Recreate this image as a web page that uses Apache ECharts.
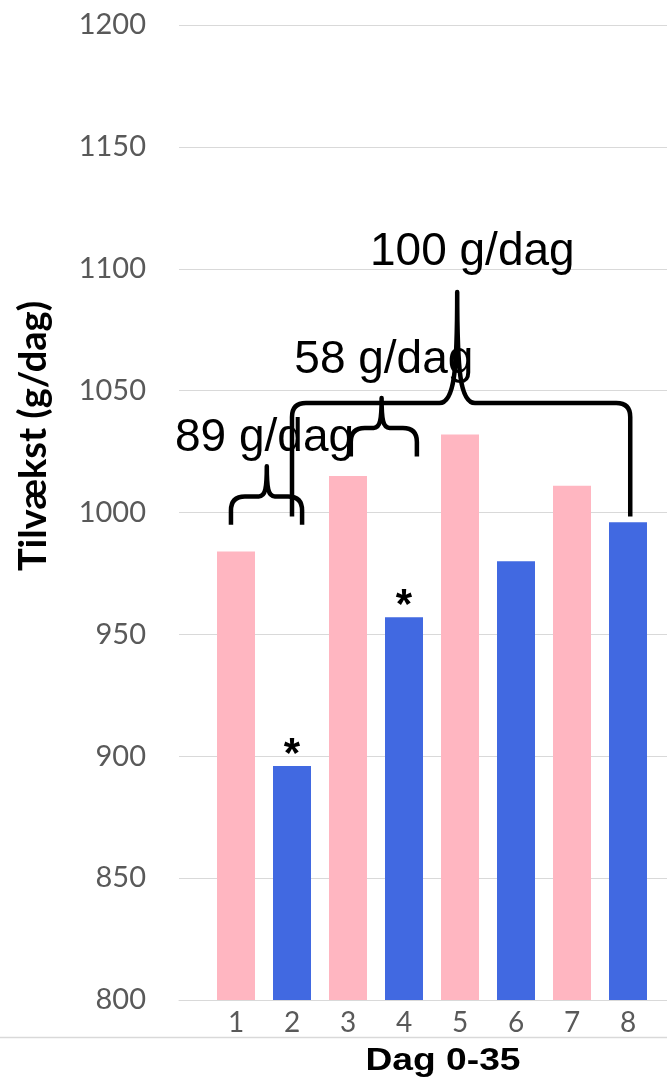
<!DOCTYPE html>
<html>
<head>
<meta charset="utf-8">
<script src="https://cdn.jsdelivr.net/npm/echarts@6/dist/echarts.min.js"></script>
<style>html,body{margin:0;padding:0;background:#fff}#c{width:667px;height:1083px}</style>
</head>
<body>
<div id="c"></div>
<script>
// ---- data ----
var categories = ['1', '2', '3', '4', '5', '6', '7', '8'];
var values = [984, 896, 1015, 957, 1032, 980, 1011, 996];
var groups = ['a', 'b', 'a', 'b', 'a', 'b', 'a', 'b'];
var marked = [false, true, false, true, false, false, false, false];
var yTicks = { min: 800, max: 1200, step: 50 };

// ---- annotation brackets (category-index / value coordinates) ----
var bracketLabels = ['89 g/dag', '58 g/dag', '100 g/dag'];
var bracketFrom = [-0.09, 2.05, 1.0];
var bracketTo = [1.18, 3.23, 7.04];
var bracketPeakX = [0.55, 2.6, 3.95];
var bracketEndY = [995, 1023, 998.4];
var bracketBarY = [1006.6, 1034.7, 1044.9];
var bracketPeakY = [1019, 1047, 1090.5];
var labelX = [0.51, 2.64, 4.22];
var labelY = [1030.6, 1062.6, 1106.9];

var colorMap = { a: '#FFB6C1', b: '#4169E1' };
var chart = echarts.init(document.getElementById('c'), null, { renderer: 'canvas' });

var barData = values.map(function (v, i) {
  var item = { value: v, itemStyle: { color: colorMap[groups[i]] } };
  if (marked[i]) {
    item.label = {
      show: true, position: 'top', formatter: '*', distance: -10,
      fontSize: 42, fontWeight: 'bold', color: '#000', fontFamily: 'Liberation Sans, Arial, sans-serif'
    };
  }
  return item;
});

function renderBracket(params, api) {
  var i = api.value(0);
  var p0 = api.coord([0, 1000])[0], p1 = api.coord([1, 1000])[0];
  function px(xi) { return p0 + (p1 - p0) * xi; }
  function py(v) { return api.coord([0, v])[1]; }
  var x1 = px(bracketFrom[i]), x2 = px(bracketTo[i]), xp = px(bracketPeakX[i]);
  var ye = py(bracketEndY[i]), yb = py(bracketBarY[i]), yk = py(bracketPeakY[i]);
  var r = Math.min(14, (ye - yb) * 0.8);
  var h = yb - yk;
  var w = Math.max(8, h * 0.16);
  var d = 'M' + x1 + ' ' + ye +
    ' L' + x1 + ' ' + (yb + r) +
    ' Q' + x1 + ' ' + yb + ' ' + (x1 + r) + ' ' + yb +
    ' L' + (xp - w) + ' ' + yb +
    ' C' + (xp - w * 0.15) + ' ' + yb + ' ' + xp + ' ' + (yb - h * 0.3) + ' ' + xp + ' ' + yk +
    ' C' + xp + ' ' + (yb - h * 0.3) + ' ' + (xp + w * 0.15) + ' ' + yb + ' ' + (xp + w) + ' ' + yb +
    ' L' + (x2 - r) + ' ' + yb +
    ' Q' + x2 + ' ' + yb + ' ' + x2 + ' ' + (yb + r) +
    ' L' + x2 + ' ' + ye;
  return {
    type: 'group',
    children: [
      { type: 'path', shape: { pathData: d },
        style: { fill: null, stroke: '#000', lineWidth: 4.5, lineJoin: 'round' } },
      { type: 'text', x: px(labelX[i]), y: py(labelY[i]),
        style: { text: bracketLabels[i], fill: '#000', font: '46px "Liberation Sans", Arial, sans-serif',
          align: 'center', verticalAlign: 'middle' } }
    ]
  };
}

chart.setOption({
  animation: false,
  backgroundColor: '#fff',
  grid: [
    { left: 179, right: 0, top: 25, bottom: 83 },
    { left: 208, width: 448, top: 25, bottom: 83 }
  ],
  xAxis: [
    { gridIndex: 0, type: 'value', min: 0, max: 1, axisLabel: { show: false }, axisTick: { show: false },
      splitLine: { show: false }, axisLine: { show: true, onZero: false, lineStyle: { color: '#d9d9d9', width: 1 } } },
    { gridIndex: 1, type: 'category', data: categories, axisLine: { show: false }, axisTick: { show: false },
      axisLabel: { margin: 9, fontSize: 28, color: '#595959', fontFamily: 'Lato' } }
  ],
  yAxis: [
    { gridIndex: 0, type: 'value', min: yTicks.min, max: yTicks.max, interval: yTicks.step,
      axisLine: { show: false }, axisTick: { show: false },
      axisLabel: { margin: 33, fontSize: 29, color: '#595959', fontFamily: 'Lato',
        formatter: function (v) { return String(v); } },
      splitLine: { lineStyle: { color: '#d9d9d9', width: 1 } } },
    { gridIndex: 1, type: 'value', min: yTicks.min, max: yTicks.max, interval: yTicks.step, show: false }
  ],
  series: [
    { type: 'bar', xAxisIndex: 1, yAxisIndex: 1, barWidth: 38, data: barData },
    { type: 'custom', xAxisIndex: 1, yAxisIndex: 1, z: 10, clip: false,
      data: bracketLabels.map(function (t, i) { return [i]; }),
      encode: { x: -1, y: -1 },
      renderItem: renderBracket }
  ],
  graphic: [
    { type: 'text', x: 34, y: 436, rotation: Math.PI / 2,
      style: { text: 'Tilvækst (g/dag)', fill: '#000', font: 'bold 38px Lato', align: 'center', verticalAlign: 'middle' } },
    { type: 'text', x: 443, y: 1061, scaleX: 1.2,
      style: { text: 'Dag 0-35', fill: '#000', font: 'bold 31px "Liberation Sans", Arial, sans-serif', align: 'center', verticalAlign: 'middle' } },
    { type: 'line', shape: { x1: 0, y1: 1037.5, x2: 667, y2: 1037.5 },
      style: { stroke: '#d9d9d9', lineWidth: 1.5 } }
  ]
});
</script>
</body>
</html>
